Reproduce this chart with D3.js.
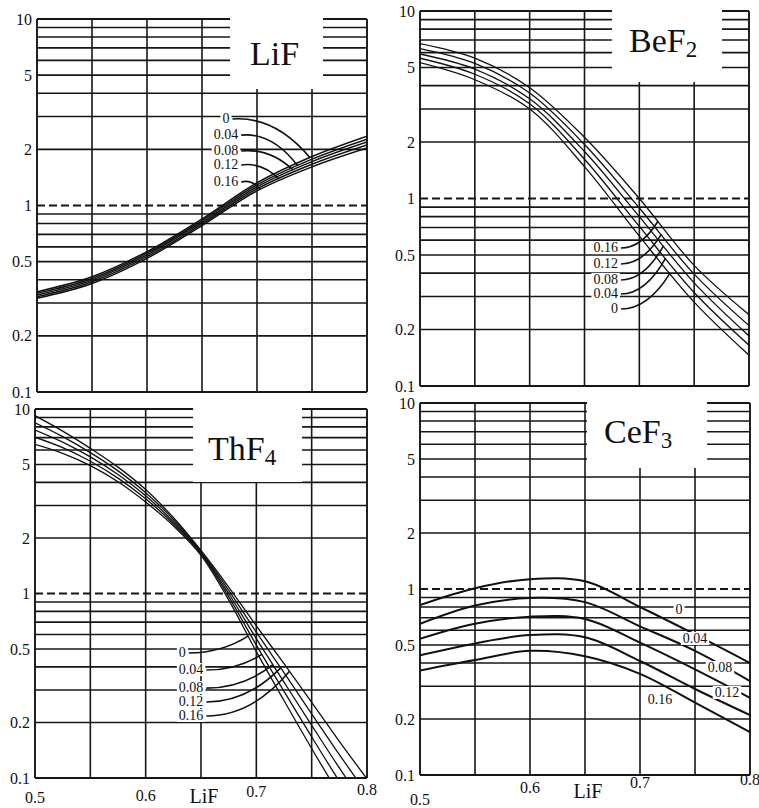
<!DOCTYPE html>
<html><head><meta charset="utf-8">
<script src="https://cdn.jsdelivr.net/npm/d3@7"></script>
<style>
body{margin:0;background:#fff}
svg{display:block}
text{font-family:"Liberation Serif","Times New Roman",serif;fill:#111}
</style>
</head><body>
<svg id="c" width="759" height="808"></svg>
<script>
// ---------- data ----------
const params = ["0", "0.04", "0.08", "0.12", "0.16"];

// LiF panel (series order = params)
const lifX = [0.5, 0.55, 0.6, 0.65, 0.7, 0.75, 0.8];
const lifY = [
  [0.345, 0.415, 0.566, 0.847, 1.324, 1.832, 2.355],
  [0.338, 0.406, 0.555, 0.830, 1.291, 1.774, 2.270],
  [0.331, 0.398, 0.543, 0.813, 1.259, 1.718, 2.188],
  [0.324, 0.390, 0.532, 0.796, 1.227, 1.663, 2.109],
  [0.318, 0.382, 0.521, 0.780, 1.197, 1.611, 2.032]
];

// BeF2 panel
const bef2X = [0.5, 0.55, 0.6, 0.65, 0.7, 0.75, 0.8];
const bef2Y = [
  [5.3, 4.3, 3.0, 1.48, 0.63, 0.28, 0.146],
  [5.6, 4.6, 3.2, 1.62, 0.71, 0.315, 0.165],
  [5.9, 4.9, 3.4, 1.78, 0.80, 0.355, 0.185],
  [6.3, 5.25, 3.65, 1.94, 0.89, 0.395, 0.21],
  [6.7, 5.6, 3.9, 2.12, 1.0, 0.44, 0.24]
];

// ThF4 panel
const thf4X = [0.5, 0.525, 0.55, 0.575, 0.6, 0.625, 0.65, 0.675, 0.7, 0.725, 0.75, 0.775, 0.8];
const thf4Y = [
  [6.43, 5.75, 4.93, 4.03, 3.13, 2.33, 1.61, 0.923, 0.484, 0.263, 0.1445, 0.0813, 0.0473],
  [7.03, 6.17, 5.21, 4.22, 3.26, 2.39, 1.64, 0.961, 0.525, 0.295, 0.167, 0.096, 0.0569],
  [7.69, 6.61, 5.50, 4.42, 3.39, 2.45, 1.66, 1.0, 0.569, 0.331, 0.193, 0.1135, 0.0684],
  [8.41, 7.08, 5.80, 4.62, 3.52, 2.52, 1.68, 1.041, 0.617, 0.372, 0.2226, 0.134, 0.0822],
  [9.20, 7.59, 6.12, 4.84, 3.66, 2.58, 1.71, 1.084, 0.668, 0.417, 0.257, 0.158, 0.0989]
];

// CeF3 panel
const cef3X = [0.5, 0.55, 0.6, 0.65, 0.7, 0.75, 0.8];
const cef3Y = [
  [0.82, 1.01, 1.13, 1.10, 0.80, 0.57, 0.40],
  [0.65, 0.815, 0.895, 0.85, 0.63, 0.465, 0.32],
  [0.54, 0.65, 0.71, 0.69, 0.515, 0.37, 0.26],
  [0.44, 0.51, 0.565, 0.55, 0.41, 0.29, 0.21],
  [0.365, 0.415, 0.465, 0.435, 0.35, 0.245, 0.17]
];

const yTickValues = [10, 5, 2, 1, 0.5, 0.2, 0.1];
const yTickLabels = ["10", "5", "2", "1", "0.5", "0.2", "0.1"];
const xTickValues = [0.5, 0.6, 0.7, 0.8];
const xTickLabels = ["0.5", "0.6", "0.7", "0.8"];
const xAxisTitle = "LiF";
const gridYValues = [0.1, 0.2, 0.3, 0.4, 0.5, 0.6, 0.7, 0.8, 0.9, 1, 2, 3, 4, 5, 6, 7, 8, 9, 10];
const gridXValues = [0.5, 0.55, 0.6, 0.65, 0.7, 0.75, 0.8];

// ---------- layout ----------
const panels = [
  { title: "LiF", sub: "", xs: lifX, ys: lifY, px: [37, 367], py: [19, 392], cw: 1.5,
    tbox: [0.6755, 0.76, 4.21], tpos: [0.6936, 5.67],
    lab: { anchor: "middle", x: [0.6718, 0.6718, 0.6718, 0.6718, 0.6718], v: [2.77, 2.27, 1.866, 1.569, 1.272],
           tx: [0.748, 0.737, 0.733, 0.72, 0.703] },
    xaxis: null },
  { title: "BeF", sub: "2", xs: bef2X, ys: bef2Y, px: [420, 749], py: [11, 386], cw: 1.3,
    tbox: [0.675, 0.7754, 4.18], tpos: [0.6906, 6.04],
    lab: { anchor: "end", x: [0.6805, 0.6805, 0.6805, 0.6805, 0.6805], v: [0.245, 0.2946, 0.35, 0.426, 0.518],
           tx: [0.728, 0.724, 0.722, 0.72, 0.717] },
    xaxis: null },
  { title: "ThF", sub: "4", xs: thf4X, ys: thf4Y, px: [35, 367], py: [409, 778], cw: 1.3,
    tbox: [0.6428, 0.7413, 4.02], tpos: [0.6563, 5.29],
    lab: { anchor: "start", x: [0.630, 0.630, 0.630, 0.630, 0.630], v: [0.453, 0.366, 0.292, 0.2456, 0.2063],
           tx: [0.6925, 0.705, 0.715, 0.722, 0.73] },
    xaxis: { off: [25, 23, 19, 17], title: [0.6527, 25] } },
  { title: "CeF", sub: "3", xs: cef3X, ys: cef3Y, px: [420, 750], py: [403, 775], cw: 2,
    tbox: [0.6518, 0.761, 4.47], tpos: [0.6673, 6.1],
    lab: { anchor: "middle", x: [0.7355, 0.75, 0.7727, 0.7791, 0.7182], v: [0.734, 0.5125, 0.358, 0.2627, 0.2405],
           tx: null },
    xaxis: { off: [30, 18, 13, 10], title: [0.6527, 23] } }
];

const svg = d3.select("#c");
const defs = svg.append("defs");

function valueAt(xs, ys, xv) {
  for (let i = 0; i < xs.length - 1; i++) {
    if (xv >= xs[i] && xv <= xs[i + 1]) {
      const t = (xv - xs[i]) / (xs[i + 1] - xs[i]);
      return Math.pow(10, Math.log10(ys[i]) * (1 - t) + Math.log10(ys[i + 1]) * t);
    }
  }
  return ys[ys.length - 1];
}

panels.forEach((p, pi) => {
  const x = d3.scaleLinear().domain([0.5, 0.8]).range(p.px);
  const y = d3.scaleLog().domain([0.1, 10]).range([p.py[1], p.py[0]]);
  const g = svg.append("g");

  const cid = "clip" + pi;
  defs.append("clipPath").attr("id", cid).append("rect")
    .attr("x", p.px[0]).attr("y", p.py[0])
    .attr("width", p.px[1] - p.px[0]).attr("height", p.py[1] - p.py[0]);

  // horizontal grid
  g.append("g").selectAll("line").data(gridYValues).join("line")
    .attr("x1", p.px[0]).attr("x2", p.px[1])
    .attr("y1", d => y(d)).attr("y2", d => y(d))
    .attr("stroke", "#161616")
    .attr("stroke-width", d => (d === 1 || d === 0.1 || d === 10 ? 1.9 : 1.6))
    .attr("stroke-dasharray", d => (d === 1 ? "8,4" : null));

  // vertical grid
  g.append("g").selectAll("line").data(gridXValues).join("line")
    .attr("x1", d => x(d)).attr("x2", d => x(d))
    .attr("y1", p.py[0]).attr("y2", p.py[1])
    .attr("stroke", "#161616")
    .attr("stroke-width", d => (d === 0.5 || d === 0.8 ? 1.9 : 1.6));

  // title box
  g.append("rect")
    .attr("x", x(p.tbox[0])).attr("y", p.py[0] - 6)
    .attr("width", x(p.tbox[1]) - x(p.tbox[0]))
    .attr("height", y(p.tbox[2]) - p.py[0] + 6)
    .attr("fill", "#fff");
  const t = g.append("text").attr("x", x(p.tpos[0])).attr("y", y(p.tpos[1])).attr("font-size", 34);
  t.append("tspan").text(p.title);
  if (p.sub) t.append("tspan").attr("dy", 5).attr("font-size", 23).text(p.sub);

  // curves
  const line = d3.line().x(d => x(d[0])).y(d => y(d[1])).curve(d3.curveCatmullRom.alpha(0.5));
  g.append("g").attr("clip-path", `url(#${cid})`)
    .selectAll("path").data(p.ys).join("path")
    .attr("d", s => line(p.xs.map((xv, i) => [xv, s[i]])))
    .attr("fill", "none").attr("stroke", "#111").attr("stroke-width", p.cw);

  // curve labels
  const lg = g.append("g");
  params.forEach((lbl, i) => {
    const tx = x(p.lab.x[i]), ty = y(p.lab.v[i]);
    const bgr = lg.append("rect").attr("fill", "#fff");
    const te = lg.append("text").attr("x", tx).attr("y", ty)
      .attr("text-anchor", p.lab.anchor).attr("font-size", 14).text(lbl);
    const bb = te.node().getBBox();
    bgr.attr("x", bb.x - 2).attr("y", ty - 11).attr("width", bb.width + 4).attr("height", 13);
    if (p.lab.tx) {
      const sx = bb.x + bb.width + 3, sy = ty - 4;
      const ex = x(p.lab.tx[i]), ey = y(valueAt(p.xs, p.ys[i], p.lab.tx[i]));
      const cx = sx + (ex - sx) * 0.55, cy = sy - (pi === 0 ? 3 : 0);
      lg.append("path").attr("d", `M${sx},${sy} Q${cx},${cy} ${ex},${ey}`)
        .attr("fill", "none").attr("stroke", "#111").attr("stroke-width", 1.6);
    }
  });

  // y tick labels
  g.append("g").selectAll("text").data(yTickValues).join("text")
    .attr("x", p.px[0] - 5).attr("y", d => y(d)).attr("dy", "0.35em")
    .attr("text-anchor", "end").attr("font-size", 16)
    .text((d, i) => yTickLabels[i]);

  // x tick labels
  if (p.xaxis) {
    g.append("g").selectAll("text").data(xTickValues).join("text")
      .attr("x", d => x(d)).attr("y", (d, i) => p.py[1] + p.xaxis.off[i])
      .attr("text-anchor", "middle").attr("font-size", 16)
      .text((d, i) => xTickLabels[i]);
    g.append("text").attr("x", x(p.xaxis.title[0])).attr("y", p.py[1] + p.xaxis.title[1])
      .attr("text-anchor", "middle").attr("font-size", 20).text(xAxisTitle);
  }
});
</script>
</body></html>
